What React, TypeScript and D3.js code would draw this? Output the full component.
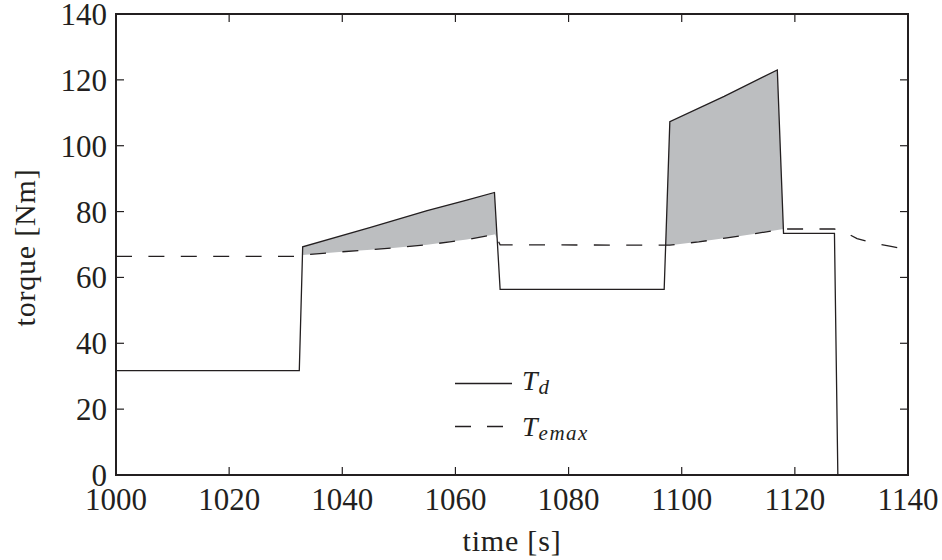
import React from "react";
import * as d3 from "d3";

const tdTime = [1000, 1032.4, 1033, 1045, 1055, 1062, 1066.9, 1067.9, 1096.9, 1097.9, 1107.5, 1116.9, 1118, 1127, 1127.6];
const tdValue = [31.7, 31.7, 69.3, 75.2, 80.3, 83.5, 85.8, 56.4, 56.4, 107.3, 115.0, 123.0, 73.4, 73.4, 0];

const tmTime = [1000, 1032.5, 1033, 1040, 1048, 1055, 1059, 1063, 1067, 1067.9, 1097.9, 1103, 1108, 1113, 1118, 1127, 1129, 1131, 1134, 1137, 1140];
const tmValue = [66.4, 66.4, 66.8, 67.8, 68.8, 69.9, 70.8, 71.8, 73.1, 69.9, 69.8, 70.8, 72.0, 73.3, 74.7, 74.7, 73.6, 71.8, 70.4, 69.4, 68.4];

const xTicks = [1000, 1020, 1040, 1060, 1080, 1100, 1120, 1140];
const yTicks = [0, 20, 40, 60, 80, 100, 120, 140];
const xLabel = "time [s]";
const yLabel = "torque [Nm]";

const W = 942, H = 560;
const L = 116, R = 908, T = 14, B = 475;
const INK = "#231f20";
const FILL = "#bcbec0";
const FONT = "Liberation Serif";

function interp(ts: number[], vs: number[], t: number): number {
  if (t <= ts[0]) return vs[0];
  if (t >= ts[ts.length - 1]) return vs[vs.length - 1];
  for (let i = 1; i < ts.length; i++) {
    if (t <= ts[i]) {
      const f = (t - ts[i - 1]) / (ts[i] - ts[i - 1]);
      return vs[i - 1] + f * (vs[i] - vs[i - 1]);
    }
  }
  return vs[vs.length - 1];
}

type Row = { t: number; top: number; bot: number };

function fillPolys(): Row[][] {
  const grid = Array.from(new Set([...tdTime, ...tmTime])).sort((a, b) => a - b);
  const rows = grid.map((t) => ({ t, top: interp(tdTime, tdValue, t), bot: interp(tmTime, tmValue, t) }));
  const polys: Row[][] = [];
  let cur: Row[] | null = null;
  for (let i = 0; i < rows.length; i++) {
    const r = rows[i];
    const d = r.top - r.bot;
    if (i > 0) {
      const p = rows[i - 1];
      const dp = p.top - p.bot;
      if ((dp > 0) !== (d > 0)) {
        const f = dp / (dp - d);
        const t = p.t + f * (r.t - p.t);
        const v = p.bot + f * (r.bot - p.bot);
        const cr = { t, top: v, bot: v };
        if (d > 0) {
          cur = [cr];
        } else if (cur) {
          cur.push(cr);
          polys.push(cur);
          cur = null;
        }
      }
    }
    if (d > 0) {
      if (!cur) cur = [];
      cur.push(r);
    }
  }
  if (cur) polys.push(cur);
  return polys;
}

export default function App() {
  const x = d3.scaleLinear().domain([1000, 1140]).range([L, R]);
  const y = d3.scaleLinear().domain([0, 140]).range([B, T]);

  const tdData = tdTime.map((t, i) => [t, tdValue[i]] as [number, number]);
  const tmData = tmTime.map((t, i) => [t, tmValue[i]] as [number, number]);

  const lineLin = d3.line<[number, number]>().x((d) => x(d[0])).y((d) => y(d[1]));
  const area = d3
    .area<Row>()
    .x((d) => x(d.t))
    .y0((d) => y(d.bot))
    .y1((d) => y(d.top));

  const polys = fillPolys();

  return (
    <svg width={W} height={H} style={{ position: "absolute", left: 0, top: 0, background: "#fff" }}>
      <defs>
        <clipPath id="plot">
          <rect x={L} y={T} width={R - L} height={B - T} />
        </clipPath>
      </defs>
      <rect x={0} y={0} width={W} height={H} fill="#fff" />
      <g clipPath="url(#plot)">
        {polys.map((p, i) => (
          <path key={i} d={area(p) || ""} fill={FILL} stroke="none" />
        ))}
        <path d={lineLin(tmData) || ""} fill="none" stroke={INK} strokeWidth={1.3} strokeDasharray="16,16.4" />
        <path d={lineLin(tdData) || ""} fill="none" stroke={INK} strokeWidth={1.3} />
      </g>

      {xTicks.map((t) => (
        <g key={"x" + t}>
          <line x1={x(t)} x2={x(t)} y1={B} y2={B - 8} stroke={INK} strokeWidth={1.2} />
          <line x1={x(t)} x2={x(t)} y1={T} y2={T + 8} stroke={INK} strokeWidth={1.2} />
          <text x={x(t)} y={510} textAnchor="middle" fontFamily={FONT} fontSize={31} fill={INK}>
            {t}
          </text>
        </g>
      ))}
      {yTicks.map((v) => (
        <g key={"y" + v}>
          <line x1={L} x2={L + 8} y1={y(v)} y2={y(v)} stroke={INK} strokeWidth={1.2} />
          <line x1={R} x2={R - 8} y1={y(v)} y2={y(v)} stroke={INK} strokeWidth={1.2} />
          <text x={107} y={y(v) + 11} textAnchor="end" fontFamily={FONT} fontSize={31} fill={INK}>
            {v}
          </text>
        </g>
      ))}
      <rect x={L} y={T} width={R - L} height={B - T} fill="none" stroke={INK} strokeWidth={2} />

      <text x={(L + R) / 2} y={551} textAnchor="middle" fontFamily={FONT} fontSize={30} fill={INK} letterSpacing={0.8}>
        {xLabel}
      </text>
      <text
        transform={`translate(35,${(T + B) / 2 + 3}) rotate(-90)`}
        textAnchor="middle"
        fontFamily={FONT}
        fontSize={30}
        fill={INK}
        letterSpacing={0.8}
      >
        {yLabel}
      </text>

      <line x1={455} x2={512} y1={383.5} y2={383.5} stroke={INK} strokeWidth={1.3} />
      <line x1={455} x2={512} y1={426.5} y2={426.5} stroke={INK} strokeWidth={1.3} strokeDasharray="16,16" />
      <text x={522} y={390} fontFamily={FONT} fontStyle="italic" fontSize={28} fill={INK}>
        T
        <tspan fontSize={21} dx={1} dy={4} letterSpacing={1.5}>d</tspan>
      </text>
      <text x={522} y={436} fontFamily={FONT} fontStyle="italic" fontSize={28} fill={INK}>
        T
        <tspan fontSize={21} dx={1} dy={4} letterSpacing={1.5}>emax</tspan>
      </text>
    </svg>
  );
}
